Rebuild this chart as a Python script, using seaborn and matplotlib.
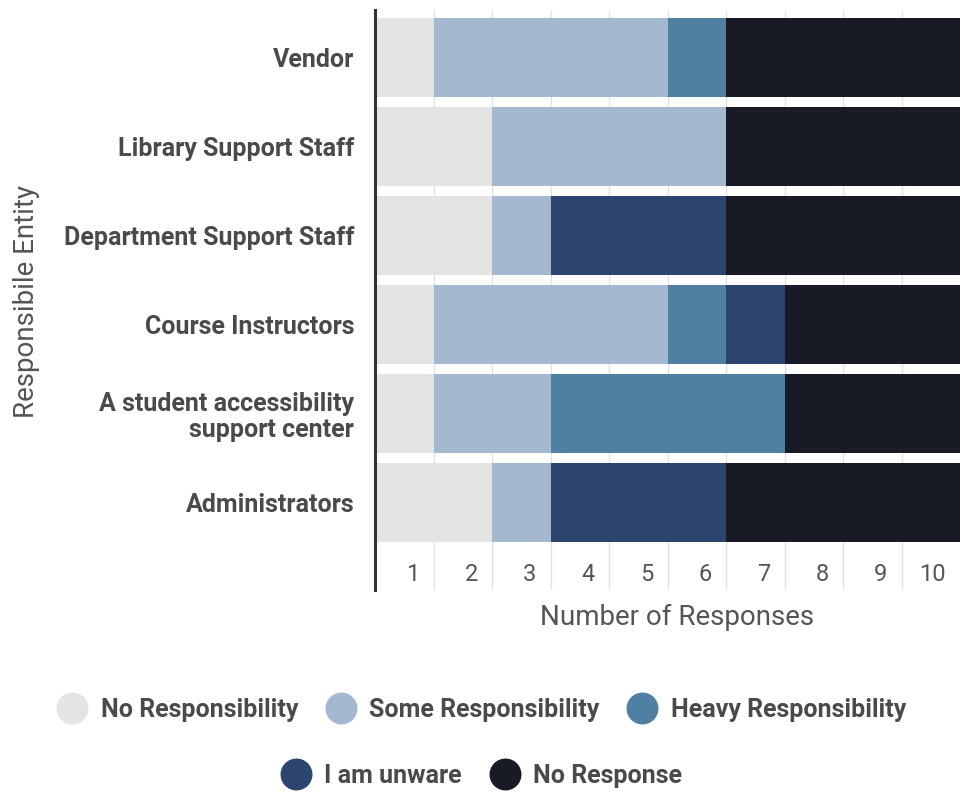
import matplotlib
matplotlib.use("Agg")
import matplotlib.pyplot as plt
import seaborn as sns
import numpy as np
from matplotlib.lines import Line2D

categories = ["Vendor", "Library Support Staff", "Department Support Staff",
              "Course Instructors", "A student accessibility\nsupport center", "Administrators"]
no_resp_ty = [1, 2, 2, 1, 1, 2]
some_resp = [4, 4, 1, 4, 2, 1]
heavy_resp = [1, 0, 0, 1, 4, 0]
unaware = [0, 0, 3, 1, 0, 3]
no_response = [4, 4, 4, 3, 3, 4]
series_names = ["No Responsibility", "Some Responsibility", "Heavy Responsibility",
                "I am unware", "No Response"]
colors = ["#e4e4e4", "#a4b8d0", "#4f7fa3", "#2b4570", "#181b26"]
x_ticks = list(range(1, 11))

sns.set_theme(style="white")
plt.rcParams['font.family'] = ['Roboto', 'DejaVu Sans']

fig = plt.figure(figsize=(9.63, 7.93), dpi=100)
ax = fig.add_axes([375/963, 1-590/793, 585/963, 580/793])

series = [no_resp_ty, some_resp, heavy_resp, unaware, no_response]
cum = np.cumsum(np.array(series), axis=0)

for i in range(len(series) - 1, -1, -1):
    sns.barplot(x=cum[i], y=categories, color=colors[i], orient="h", width=0.89,
                saturation=1, ax=ax, linewidth=0, edgecolor="none", zorder=2)

ax.set_xlim(0, 10)
ax.set_ylim(5.98, -0.53)
for v in range(1, 10):
    ax.axvline(v, color="#e2e2e2", lw=1, zorder=0)

ax.set_xticks([])
ax.tick_params(axis="y", length=0, pad=15)
for lab in ax.get_yticklabels():
    lab.set_fontsize(18)
    lab.set_fontweight("bold")
    lab.set_color("#4a4a4a")
    lab.set_horizontalalignment("right")
    lab.set_linespacing(1.1)

for v in x_ticks:
    ax.text(v - 0.24, 5.81, str(v), ha="right", va="center", fontsize=17,
            color="#555555")

for s in ["top", "right", "bottom"]:
    ax.spines[s].set_visible(False)
ax.spines["left"].set_color("#333333")
ax.spines["left"].set_linewidth(2.2)
ax.spines["left"].set_zorder(5)

ax.set_xlabel("Number of Responses", fontsize=20, color="#555555")
ax.xaxis.set_label_coords(0.516, -0.024)
ax.xaxis.label.set_va("top")
ax.set_ylabel("Responsibile Entity", fontsize=20, color="#555555")
ax.yaxis.set_label_coords(-0.573, 0.498)

handles = [Line2D([0], [0], marker="o", linestyle="none", markersize=22,
                  markerfacecolor=c, markeredgecolor=c) for c in colors]
leg_kw = dict(frameon=False, handletextpad=0.55, columnspacing=1.1, handlelength=1.2,
              prop={"size": 18, "weight": "bold"}, labelcolor="#4a4a4a")
leg1 = fig.legend(handles[:3], series_names[:3], ncol=3, loc="center",
                  bbox_to_anchor=(0.5, 1-710/793), **leg_kw)
leg2 = fig.legend(handles[3:], series_names[3:], ncol=2, loc="center",
                  bbox_to_anchor=(0.5, 1-776/793), **leg_kw)

fig.savefig("out.png", dpi=100)
